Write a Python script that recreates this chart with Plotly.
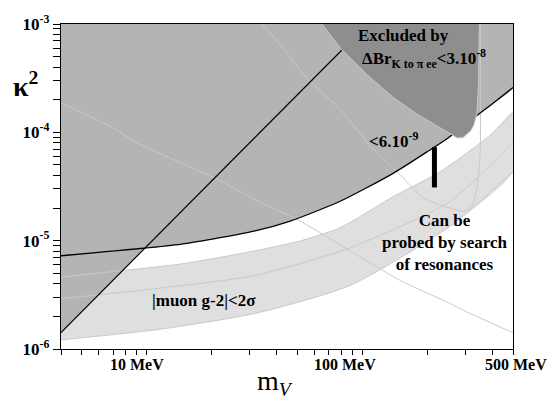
import numpy as np
import plotly.graph_objects as go

# ---------------- data (m_V in MeV, kappa^2) ----------------
# diagonal exclusion boundary (black straight line)
diag_m = [4, 106]
diag_k2 = [1.42e-6, 1.0e-3]

# Delta Br < 6e-9 boundary (black curve)
bound6_m = [4, 14.5, 31.8, 46.3, 78.9, 139, 199.5, 247, 340, 392, 500]
bound6_k2 = [7.26e-6, 9.28e-6, 1.23e-5, 1.515e-5, 2.31e-5, 4.18e-5, 6.6e-5, 8.73e-5, 1.43e-4, 1.77e-4, 2.59e-4]

# Delta Br < 3e-8 excluded region (dark)
kpee_m = [65, 79, 105, 139, 179, 213, 247, 262, 275, 292, 306, 318, 328, 340, 346, 349]
kpee_k2 = [1e-3, 6.0e-4, 3.42e-4, 2.1e-4, 1.48e-4, 1.2e-4, 1.0e-4, 9.3e-5, 8.9e-5, 8.9e-5, 9.6e-5, 1.03e-4, 1.15e-4, 1.48e-4, 2.77e-4, 1e-3]

# muon g-2 band: upper edge, central line, lower edge
g2_up_m = [4, 7.65, 14.5, 31.8, 51.5, 78.9, 139.6, 230, 392, 500]
g2_up_k2 = [4.6e-6, 5.29e-6, 6.1e-6, 8.06e-6, 9.95e-6, 1.316e-5, 2.56e-5, 4.33e-5, 9.43e-5, 1.53e-4]
g2_mid_m = [4, 10.9, 31.8, 87.8, 256, 500]
g2_mid_k2 = [2.92e-6, 3.6e-6, 4.77e-6, 8.58e-6, 2.31e-5, 8.14e-5]
g2_lo_m = [4, 10.9, 31.8, 87.8, 256, 500]
g2_lo_k2 = [1.215e-6, 1.5e-6, 2.13e-6, 3.86e-6, 1.36e-5, 4.33e-5]

# thin light contour lines
lineA_m = [34.3, 41.6, 55.5, 78.9, 105, 150, 192, 256, 295, 323, 340, 350, 353, 353]
lineA_k2 = [1e-3, 6.43e-4, 3.13e-4, 1.63e-4, 8.14e-5, 4.04e-5, 2.47e-5, 2.0e-5, 1.87e-5, 2.08e-5, 3.05e-5, 5.35e-5, 8.14e-5, 1e-3]
lineC_m = [4, 7.12, 8.82, 20.8, 31.8, 51.5, 87.8, 150, 256, 294, 500]
lineC_k2 = [1.87e-4, 1.077e-4, 8.14e-5, 3.76e-5, 2.39e-5, 1.515e-5, 8.06e-6, 4.29e-6, 2.63e-6, 2.28e-6, 1.41e-6]

# resonance-search marker
bar_m = [216, 216]
bar_k2 = [7.3e-5, 3.1e-5]

# axes
x_range = [4, 500]
y_range = [1e-6, 1e-3]
x_label_vals = [10, 100, 500]
x_label_text = ["10 MeV", "100 MeV", "500 MeV"]
y_label_vals = [1e-6, 1e-5, 1e-4, 1e-3]
y_label_text = ["10<sup>-6</sup>", "10<sup>-5</sup>", "10<sup>-4</sup>", "10<sup>-3</sup>"]

# ---------------- styles ----------------
MED = "#b4b4b4"
DARK = "#8e8e8e"
BAND = "#dfdfdf"
THIN = "#c9c9c9"
NOLINE = dict(color="rgba(0,0,0,0)", width=0, shape="spline")
FONT = "Liberation Serif"

fig = go.Figure()

# g-2 band fill (closed outline: upper edge then lower edge reversed)
fig.add_trace(go.Scatter(x=g2_up_m + g2_lo_m[::-1], y=g2_up_k2 + g2_lo_k2[::-1],
                         mode="lines", line=dict(NOLINE, smoothing=0.6), fill="toself",
                         fillcolor=BAND, hoverinfo="skip"))
# medium gray excluded regions
fig.add_trace(go.Scatter(x=[diag_m[0], diag_m[1], x_range[0]], y=[diag_k2[0], diag_k2[1], y_range[1]],
                         fill="toself", fillcolor=MED, mode="lines",
                         line=dict(color="rgba(0,0,0,0)", width=0), hoverinfo="skip"))
fig.add_trace(go.Scatter(x=bound6_m + [x_range[1], x_range[1], x_range[0], x_range[0]],
                         y=bound6_k2 + [y_range[1], y_range[1], y_range[1], y_range[1]],
                         fill="toself", fillcolor=MED, mode="lines",
                         line=dict(NOLINE, smoothing=0.6), hoverinfo="skip"))
# thin light lines
for mx, ky in [(g2_up_m, g2_up_k2), (g2_mid_m, g2_mid_k2), (g2_lo_m, g2_lo_k2),
               (lineA_m, lineA_k2), (lineC_m, lineC_k2)]:
    fig.add_trace(go.Scatter(x=mx, y=ky, mode="lines",
                             line=dict(color=THIN, width=1, shape="spline", smoothing=0.6),
                             hoverinfo="skip"))
# black boundaries
fig.add_trace(go.Scatter(x=diag_m, y=diag_k2, mode="lines", line=dict(color="black", width=1.2)))
fig.add_trace(go.Scatter(x=bound6_m, y=bound6_k2, mode="lines",
                         line=dict(color="black", width=1.3, shape="spline", smoothing=0.6)))
# dark excluded region
fig.add_trace(go.Scatter(x=kpee_m, y=kpee_k2, fill="toself", fillcolor=DARK, mode="lines",
                         line=dict(color=THIN, width=1), hoverinfo="skip"))
# marker bar
fig.add_trace(go.Scatter(x=bar_m, y=bar_k2, mode="lines", line=dict(color="black", width=5)))

# ticks
def log_ticks(lo, hi):
    vals = []
    for e in range(-7, 4):
        for k in range(1, 10):
            v = k * 10.0 ** e
            if lo * 0.999 <= v <= hi * 1.001:
                vals.append(v)
    return vals

xt = log_ticks(*x_range)
yt = log_ticks(*y_range)
ytext = []
for v in yt:
    match = [t for d, t in zip(y_label_vals, y_label_text) if abs(v / d - 1) < 1e-6]
    ytext.append(match[0] if match else "")

fig.update_xaxes(type="log", range=[np.log10(x_range[0]), np.log10(x_range[1])],
                 tickvals=xt, ticktext=[""] * len(xt), ticks="outside", ticklen=5,
                 tickcolor="black", tickwidth=1, showgrid=False, zeroline=False,
                 showline=True, linecolor="black", linewidth=1.2, mirror=True)
fig.update_yaxes(type="log", range=[np.log10(y_range[0]), np.log10(y_range[1])],
                 tickvals=yt, ticktext=ytext, ticks="outside", ticklen=7,
                 tickcolor="black", tickwidth=1, showgrid=False, zeroline=False,
                 showline=True, linecolor="black", linewidth=1.2, mirror=True,
                 tickfont=dict(family=FONT, size=17, color="black", weight="bold"))

ann = []
x_shifts = [-10, -17, 3]
for v, t, s in zip(x_label_vals, x_label_text, x_shifts):
    ann.append(dict(x=np.log10(v), y=-0.048, xref="x", yref="paper", text=t, showarrow=False,
                    xshift=s, xanchor="center", yanchor="middle",
                    font=dict(family=FONT, size=16, color="black", weight="bold")))

tf = dict(family=FONT, size=17, color="black", weight="bold")
ann += [
    dict(x=0.757, y=0.965, xref="paper", yref="paper", text="Excluded by", showarrow=False,
         xanchor="center", yanchor="middle", font=tf),
    dict(x=0.662, y=0.895, xref="paper", yref="paper",
         text="ΔBr<sub>K to π ee</sub><3.10<sup>-8</sup>", showarrow=False,
         xanchor="left", yanchor="middle", font=tf),
    dict(x=0.677, y=0.643, xref="paper", yref="paper", text="<6.10<sup>-9</sup>", showarrow=False,
         xanchor="left", yanchor="middle", font=tf),
    dict(x=0.850, y=0.3265, xref="paper", yref="paper",
         text="Can be<br>probed by search<br>of resonances", showarrow=False,
         xanchor="center", yanchor="middle", align="center", font=tf),
    dict(x=0.3155, y=0.150, xref="paper", yref="paper", text="|muon g-2|<2σ", showarrow=False,
         xanchor="center", yanchor="middle", font=tf),
    dict(x=-0.0775, y=0.813, xref="paper", yref="paper", text="κ<sup>2</sup>", showarrow=False,
         xanchor="center", yanchor="middle", font=dict(family=FONT, size=28, color="black", weight="bold")),
    dict(x=0.474, y=-0.1026, xref="paper", yref="paper", text="m<sub><i>V</i></sub>", showarrow=False,
         xanchor="center", yanchor="middle", font=dict(family=FONT, size=28, color="black")),
]

fig.update_layout(width=549, height=405, margin=dict(l=61, r=36, t=21, b=56),
                  paper_bgcolor="white", plot_bgcolor="white", showlegend=False,
                  annotations=ann)

fig.write_html("out.html")
